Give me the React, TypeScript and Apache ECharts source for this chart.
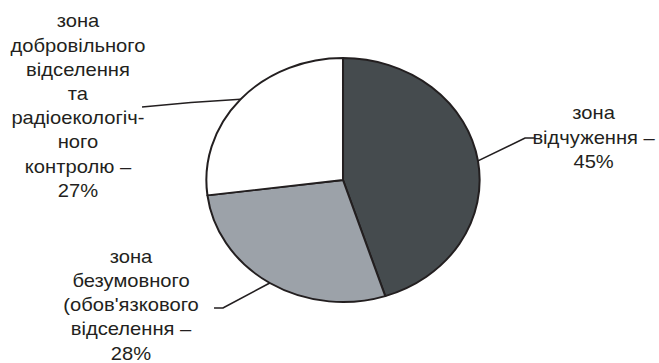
import React, { useEffect, useRef } from "react";
import * as echarts from "echarts";

// Data
const categories = [
  "зона\nвідчуження –",
  "зона\nбезумовного\n(обов'язкового\nвідселення –",
  "зона\nдобровільного\nвідселення\nта\nрадіоекологіч-\nного\nконтролю –",
];
const values = [45, 28, 27];
const colors = ["#454b4e", "#9ca2a9", "#ffffff"];

// Layout (chart coordinates, before horizontal stretch)
const STRETCH = 1.12;
const W = 659 / STRETCH;
const labelPos = [
  { x: 530, y: 137.5 },
  { x: 117, y: 305 },
  { x: 69.6, y: 106 },
];
const leaderPts = [
  [[468.8, 138], [477.7, 138]],
  [[199.1, 308], [191.1, 308]],
  [[170.5, 102.5], [126.8, 107]],
];

export default function App() {
  const ref = useRef<HTMLDivElement>(null);
  useEffect(() => {
    if (!ref.current) return;
    const chart = echarts.init(ref.current, null, { renderer: "svg" });
    chart.setOption({
      animation: false,
      backgroundColor: "#ffffff",
      series: [
        {
          type: "pie",
          center: [343 / STRETCH, 180],
          radius: 122,
          startAngle: 90,
          clockwise: true,
          avoidLabelOverlap: false,
          data: categories.map((c, i) => ({
            name: c,
            value: values[i],
            itemStyle: { color: colors[i] },
          })),
          itemStyle: { borderColor: "#231f20", borderWidth: 1.8 },
          label: {
            show: true,
            formatter: (p: any) => `${p.name}\n${p.value}%`,
            fontFamily: "Liberation Sans, Arial, sans-serif",
            fontSize: 18,
            lineHeight: 24.2,
            color: "#231f20",
            align: "center",
          },
          labelLine: {
            show: true,
            lineStyle: { color: "#231f20", width: 1.5 },
          },
          labelLayout: (params: any) => {
            const i = params.dataIndex;
            const anchor =
              params.labelLinePoints && params.labelLinePoints[0]
                ? params.labelLinePoints[0]
                : leaderPts[i][0];
            return {
              x: labelPos[i].x,
              y: labelPos[i].y,
              align: "center",
              verticalAlign: "middle",
              labelLinePoints: [anchor, leaderPts[i][0], leaderPts[i][1]],
            };
          },
        },
      ],
    });
    return () => chart.dispose();
  }, []);
  return (
    <div
      style={{
        position: "fixed",
        left: 0,
        top: 0,
        width: 659,
        height: 363,
        overflow: "hidden",
        background: "#fff",
      }}
    >
      <div
        ref={ref}
        style={{
          width: W,
          height: 363,
          transform: `scaleX(${STRETCH})`,
          transformOrigin: "0 0",
        }}
      />
    </div>
  );
}
